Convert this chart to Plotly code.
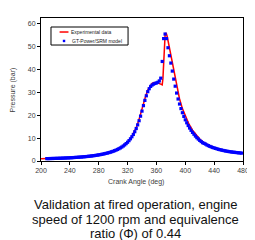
import plotly.graph_objects as go

# Experimental data (red line)
exp_angle = [200, 205, 210, 220, 230, 240, 250, 260, 270, 280, 290, 300, 305, 310, 315,
             320, 325, 330, 333, 336, 339, 342, 345, 348, 351, 354, 357, 360, 363, 366,
             368, 369, 370, 371, 372, 373, 374, 375, 377, 380, 384, 388, 392, 396, 400,
             405, 410, 415, 420, 425, 430, 440, 450, 460, 470, 480]
exp_pressure = [1.0, 1.02, 1.05, 1.14, 1.25, 1.4, 1.6, 1.86, 2.2, 2.7, 3.35, 4.3, 4.9, 5.8, 6.9,
                8.3, 10.2, 13.0, 15.3, 18.3, 21.8, 25.2, 28.3, 31.0, 32.8, 33.9, 34.3, 34.3, 34.0, 33.6,
                33.3, 36.0, 44.0, 51.0, 55.0, 56.0, 55.5, 54.3, 51.0, 45.8, 39.2, 32.6, 27.2, 22.9, 19.5,
                16.2, 13.5, 11.3, 9.6, 8.3, 7.3, 5.85, 4.9, 4.2, 3.75, 3.4]

# GT-Power/SRM model (blue dots)
model_angle = list(range(208, 482, 2))
model_pressure = [1.04, 1.05, 1.07, 1.09, 1.1, 1.12, 1.14, 1.16, 1.18, 1.2, 1.22, 1.25, 1.28, 1.31,
                  1.34, 1.37, 1.4, 1.44, 1.48, 1.52, 1.56, 1.6, 1.65, 1.7, 1.75, 1.8, 1.86, 1.92,
                  1.98, 2.05, 2.12, 2.2, 2.28, 2.37, 2.46, 2.56, 2.67, 2.78, 2.9, 3.03, 3.17, 3.32,
                  3.48, 3.65, 3.84, 4.04, 4.26, 4.5, 4.76, 5.05, 5.37, 5.72, 6.1, 6.55, 7.05, 7.6,
                  8.2, 8.9, 9.7, 10.6, 11.6, 12.8, 14.2, 15.8, 17.6, 19.6, 21.8, 24.2, 26.5, 28.5,
                  30.3, 31.6, 32.6, 33.2, 33.6, 33.9, 34.1, 34.4, 35.0, 36.2, 43.5, 53.5, 55.5, 53.5,
                  49.5, 46.0, 42.8, 39.3, 35.8, 32.7, 29.7, 27.1, 24.9, 22.9, 21.1, 19.5, 18.0, 16.7,
                  15.5, 14.4, 13.4, 12.5, 11.7, 10.9, 10.2, 9.6, 9.0, 8.5, 8.0, 7.7, 7.4, 7.0,
                  6.7, 6.4, 6.15, 5.9, 5.7, 5.5, 5.3, 5.1, 4.95, 4.8, 4.65, 4.5, 4.38, 4.25,
                  4.15, 4.05, 3.95, 3.87, 3.8, 3.72, 3.65, 3.58, 3.52, 3.45]

x_ticks = [200, 240, 280, 320, 360, 400, 440, 480]
y_ticks = [0, 10, 20, 30, 40, 50, 60]
caption_lines = ["Validation at fired operation, engine",
                 "speed of 1200 rpm and equivalence",
                 "ratio (\u03a6) of 0.44"]

FONT = "Liberation Sans, Arial, sans-serif"
GREY = "#404040"

fig = go.Figure()
fig.add_trace(go.Scatter(x=exp_angle, y=exp_pressure, mode="lines",
                         line=dict(color="#ff0000", width=1.5), name="Experimental data"))
fig.add_trace(go.Scatter(x=model_angle, y=model_pressure, mode="markers",
                         marker=dict(color="#0000ff", size=3.2, symbol="square", line=dict(width=0)),
                         name="GT-Power/SRM model"))

axis_common = dict(showgrid=False, zeroline=False, showline=True, linecolor="black",
                   linewidth=1, mirror=True, ticks="outside", ticklen=3, tickcolor="black",
                   tickfont=dict(size=7, color=GREY, family=FONT))
fig.update_xaxes(range=[200, 480], tickvals=x_ticks, **axis_common)
fig.update_yaxes(range=[0, 62.5], tickvals=y_ticks, **axis_common)

shapes = [
    dict(type="rect", xref="paper", yref="paper", x0=0.0495, x1=0.431, y0=0.811, y1=0.937,
         line=dict(color="black", width=1), fillcolor="white", layer="above"),
    dict(type="line", xref="paper", yref="paper", x0=0.092, x1=0.136, y0=0.902, y1=0.902,
         line=dict(color="#ff0000", width=1.5), layer="above"),
    dict(type="rect", xref="paper", yref="paper", x0=0.108, x1=0.120, y0=0.831, y1=0.848,
         line=dict(width=0), fillcolor="#0000ff", layer="above"),
]
annotations = [
    dict(text="Experimental data", x=0.141, y=0.902, xref="paper", yref="paper",
         xanchor="left", yanchor="middle", showarrow=False, font=dict(size=5, color="#222222", family=FONT)),
    dict(text="GT-Power/SRM model", x=0.143, y=0.839, xref="paper", yref="paper",
         xanchor="left", yanchor="middle", showarrow=False, font=dict(size=5, color="#222222", family=FONT)),
    dict(text="Crank Angle (deg)", x=0.47, y=-0.147, xref="paper", yref="paper",
         xanchor="center", yanchor="middle", showarrow=False, font=dict(size=7, color=GREY, family=FONT)),
    dict(text="Pressure (bar)", x=-0.139, y=0.5, xref="paper", yref="paper", textangle=-90,
         xanchor="center", yanchor="middle", showarrow=False, font=dict(size=7, color=GREY, family=FONT)),
]
cap_y = [-0.306, -0.410, -0.510]
for line_text, yy in zip(caption_lines, cap_y):
    annotations.append(dict(text=line_text, x=0.47, y=yy, xref="paper", yref="paper",
                            xanchor="center", yanchor="middle", showarrow=False,
                            font=dict(size=13, color="#111111", family=FONT)))

fig.update_layout(template="none", width=255, height=240, margin=dict(l=33, r=20, t=10, b=87),
                  paper_bgcolor="white", plot_bgcolor="white", showlegend=False,
                  shapes=shapes, annotations=annotations, font=dict(family=FONT, color=GREY))

fig.write_html("out.html")
